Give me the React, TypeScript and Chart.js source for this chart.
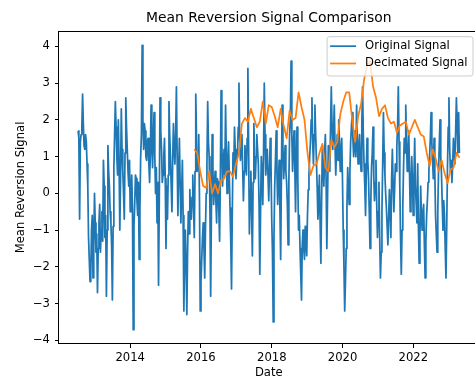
import React, { useEffect, useRef } from 'react';
import { Chart, registerables } from 'chart.js';

Chart.register(...registerables);

const TITLE = 'Mean Reversion Signal Comparison';
const X_LABEL = 'Date';
const Y_LABEL = 'Mean Reversion Signal';
const SERIES_NAMES = ['Original Signal', 'Decimated Signal'];
const SERIES_COLORS = ['#1f77b4', '#ff7f0e'];

// Original signal: decimal-year start and sampling interval (~weekly)
const ORIGINAL_START = 2012.53;
const ORIGINAL_STEP = 0.021035;
const originalValues = [
  1.7, 1.5, -0.7, 1.4, 1.6, 1.8, 2.7, 1.9, 1.3, 1.2, 1.6, 1.4, 0.8, 0.2, -1.2, -1.8, -2.4, -2.2, -1.0, -0.6,
  -2.3, -1.4, 0.0, -0.8, -1.6, -1.1, -2.7, -1.5, -0.8, -0.3, -1.6, -1.0, -0.5, -1.3, 0.9, 0.2, -1.2, -0.6, -2.8, -1.0,
  1.3, 0.6, 0.2, -0.5, -0.8, -1.4, -2.9, -0.9, 0.7, 1.6, 2.5, 1.8, 1.0, 0.5, 2.0, 0.9, -1.0, 0.4, 2.3, 1.2,
  0.6, 0.0, -0.7, 1.1, 2.6, 1.8, 1.2, 0.6, 0.2, 0.9, -0.5, -0.1, 0.5, -0.4, -3.71, -0.9, -0.3, 0.5, 0.4, -0.2,
  -0.6, 0.3, -1.8, -0.4, 1.0, 1.6, 4.03, 2.0, 1.2, 1.9, 1.7, 1.0, 0.9, 1.4, 1.5, 0.8, 0.3, 1.1, 2.4, 1.3,
  0.7, 1.5, 2.2, 1.0, 0.0, 0.7, -0.8, 0.3, -2.5, -0.2, 2.6, 1.7, 1.2, 0.3, 0.5, 1.0, 1.5, 0.4, -1.5, 0.2,
  -0.7, 0.5, 2.5, 1.6, 1.0, 0.2, -0.5, 0.9, 1.9, 1.2, 0.8, 1.6, 2.9, 1.0, -0.6, 0.6, 1.5, 0.3, -0.8, 0.0,
  0.9, -0.6, -3.2, -1.8, -1.0, -2.0, -3.3, -1.6, -0.5, -1.1, 0.1, -0.5, -0.7, -0.1, 0.5, -0.4, -1.2, 0.6, 2.7, 1.5,
  0.6, 1.1, 1.6, -0.2, -3.2, -2.4, -1.8, -1.2, -0.8, -1.5, -2.3, -1.0, 0.0, 0.8, 2.5, 1.4, 1.0, -0.4, -2.8, -0.5,
  1.6, 0.7, -0.3, 0.2, 0.6, -0.2, -0.8, 0.4, 0.3, -0.5, -1.3, 0.4, 2.8, 1.4, 0.2, 0.8, 1.2, 0.5, 2.4, 1.1,
  0.0, 0.8, 1.4, 0.5, -0.4, -1.3, -2.6, -0.6, 1.1, 0.6, 1.8, 1.2, 0.4, 0.9, 1.0, 1.8, 3.0, 1.5, 0.9, 1.2,
  1.6, 0.7, -0.2, 0.6, 1.3, 0.9, 0.5, 1.5, 3.4, 1.2, -1.1, 0.1, 0.6, -0.6, -1.7, 0.3, 1.9, 1.2, 0.4, 1.0,
  1.6, 1.2, 0.8, -0.3, -2.2, -0.5, 1.0, 0.5, -0.3, 1.1, 3.0, 1.6, 0.5, 0.9, 1.2, 0.5, -0.2, 0.6, 1.5, 0.8,
  -0.7, -1.6, -3.5, -1.2, 0.2, 0.9, 1.7, 0.6, -0.3, 0.4, 0.9, -0.4, -1.8, 0.5, 2.4, 1.3, 0.4, 0.8, 1.3, 0.6,
  0.3, -0.3, -1.4, 0.3, 1.6, 2.0, 3.6, 1.6, 0.6, 1.3, 1.7, 0.7, -0.5, 0.9, 1.8, 0.4, -1.0, -0.6, -1.5, -2.2,
  -2.9, -1.4, -1.0, -1.5, -1.8, -0.9, -1.3, -1.7, -0.6, 0.1, 0.5, 1.0, 1.4, 2.0, 2.6, 1.4, 0.8, 1.6, 2.4, 1.6,
  0.9, 0.2, -0.7, -0.3, 0.5, -0.8, -1.9, -0.2, 1.3, 0.8, 0.2, 1.1, 1.6, 0.4, -1.5, -0.1, 1.3, 1.0, 0.6, 1.8,
  2.9, 1.8, 1.2, 1.7, 2.4, 1.3, 0.5, 1.2, 1.6, 0.9, 2.0, 1.4, 0.6, 1.1, 1.5, 0.4, -1.0, -2.0, -3.2, -2.4,
  -1.5, -0.4, 0.7, 0.2, -0.3, 0.6, 1.4, 1.8, 2.2, 1.5, 1.0, 1.3, 1.7, 1.0, 2.4, 1.5, 0.8, 1.2, 1.6, 1.0,
  0.6, 1.9, 2.9, 1.6, 0.8, 0.2, -0.6, 0.6, 1.5, 0.9, 0.4, -0.5, -1.5, -0.3, 0.7, 1.1, 1.8, 0.5, -0.2, 0.3,
  0.9, -0.3, -1.2, -0.5, 0.3, -1.2, -2.3, -1.6, -0.5, 0.8, 2.2, 1.1, 0.5, 0.0, -0.4, -0.9, -1.4, -0.7, 0.1, -0.4,
  -1.2, 0.4, 1.2, 0.3, -0.5, 0.1, 0.8, 0.6, 1.3, 1.8, 2.9, 1.4, 0.2, -1.2, -2.2, -1.0, -0.4, 0.7, 1.5, 1.1,
  2.4, 1.4, 0.6, 1.0, 1.7, 0.6, -0.5, 0.2, 1.0, 0.3, -0.6, 0.4, 1.5, 0.2, -0.3, -0.8, 0.8, -0.9, -1.9, -1.2,
  0.2, -0.6, -1.0, -0.5, -0.3, -1.4, -2.3, -1.3, -0.6, -0.2, 0.3, 0.6, 1.0, 1.5, 2.2, 1.4, 0.9, 0.4, 1.5, 0.6,
  -0.6, -1.1, -1.6, -0.5, 0.6, 1.3, 2.0, 1.0, 0.5, -0.3, -1.0, -0.2, -0.6, -1.5, -2.3, -0.9, 0.7, 1.8, 2.6, 1.2,
  0.6, 0.9, 0.3, 0.8, 1.5, 1.1, 0.8, 1.7, 2.6, 1.9, 1.1, 2.2, 1.1,
];

// Decimated signal: decimal-year start and interval (~monthly)
const DECIMATED_START = 2015.81;
const DECIMATED_STEP = 0.0842;
const decimatedValues = [
  1.2, 1.1, 0.6, 0.2, 0.15, 0.6, 0.0, 0.25, 0.0, 0.35,
  0.4, 0.6, 0.6, 0.45, 0.8, 1.1, 1.9, 2.05, 1.95, 2.3,
  2.05, 1.8, 1.95, 2.5, 1.9, 2.4, 2.35, 2.1, 1.8, 2.3,
  1.85, 1.5, 2.25, 2.0, 2.05, 2.75, 2.35, 2.0, 1.1, 0.5,
  0.75, 0.8, 1.1, 1.35, 0.7, 0.6, 1.45, 1.25, 1.4, 2.15,
  2.5, 2.75, 2.75, 2.0, 1.4, 2.1, 2.45, 3.1, 3.5, 3.6,
  2.9, 2.6, 2.1, 2.3, 2.4, 2.05, 1.9, 1.95, 1.65, 1.85,
  1.9, 1.95, 1.6, 1.8, 2.0, 1.8, 1.6, 1.55, 1.1, 0.75,
  1.2, 0.95, 0.6, 0.9, 0.55, 0.28, 0.65, 0.7, 1.1, 0.97,
];

const xTickYears = [2014, 2016, 2018, 2020, 2022];
const yTickValues = [-4, -3, -2, -1, 0, 1, 2, 3, 4];
const X_MIN = 2011.99;
const X_MAX = 2023.84;
const Y_MIN = -4.1;
const Y_MAX = 4.42;

const FAMILY = "'DejaVu Sans', sans-serif";
const FS = 11.6;

const fmtMinus = (v: number) => (v < 0 ? '\u2212' + Math.abs(v) : String(v));

const framePlugin = {
  id: 'mplFrame',
  afterDatasetsDraw(chart: any) {
    const { ctx, chartArea: a } = chart;
    ctx.save();
    ctx.strokeStyle = '#000';
    ctx.lineWidth = 1;
    const l = Math.round(a.left) - 0.5;
    const t = Math.round(a.top) + 0.5;
    const r = Math.round(a.right) - 0.5;
    const b = Math.round(a.bottom) - 0.5;
    ctx.strokeRect(l, t, r - l, b - t);
    ctx.restore();
  },
};

const legendPlugin = {
  id: 'mplLegend',
  afterDraw(chart: any) {
    const { ctx, chartArea: a } = chart;
    const ds = chart.data.datasets;
    ctx.save();
    ctx.font = `${FS}px ${FAMILY}`;
    const textW = Math.max(...ds.map((d: any) => ctx.measureText(d.label).width));
    const padL = 3, lineLen = 26, gap = 9, padR = 5.5, rowH = 17.3, padT = 9.5, padB = 12.5;
    const w = padL + lineLen + gap + textW + padR;
    const h = padT + rowH * (ds.length - 1) + padB;
    const x0 = a.right - 5.5 - w;
    const y0 = a.top + 5.7;
    const rad = 2.5;
    ctx.beginPath();
    ctx.moveTo(x0 + rad, y0);
    ctx.lineTo(x0 + w - rad, y0);
    ctx.quadraticCurveTo(x0 + w, y0, x0 + w, y0 + rad);
    ctx.lineTo(x0 + w, y0 + h - rad);
    ctx.quadraticCurveTo(x0 + w, y0 + h, x0 + w - rad, y0 + h);
    ctx.lineTo(x0 + rad, y0 + h);
    ctx.quadraticCurveTo(x0, y0 + h, x0, y0 + h - rad);
    ctx.lineTo(x0, y0 + rad);
    ctx.quadraticCurveTo(x0, y0, x0 + rad, y0);
    ctx.closePath();
    ctx.fillStyle = 'rgba(255,255,255,0.8)';
    ctx.fill();
    ctx.strokeStyle = '#cccccc';
    ctx.lineWidth = 1;
    ctx.stroke();
    ds.forEach((d: any, i: number) => {
      const y = y0 + padT + i * rowH;
      ctx.beginPath();
      ctx.strokeStyle = d.borderColor;
      ctx.lineWidth = 1.74;
      ctx.moveTo(x0 + padL, y);
      ctx.lineTo(x0 + padL + lineLen, y);
      ctx.stroke();
      ctx.fillStyle = '#000';
      ctx.textAlign = 'left';
      ctx.textBaseline = 'middle';
      ctx.fillText(d.label, x0 + padL + lineLen + gap, y);
    });
    ctx.restore();
  },
};

export default function App() {
  const ref = useRef<HTMLCanvasElement>(null);
  useEffect(() => {
    document.body.style.margin = '0';
    const originalPoints = originalValues.map((v, i) => ({ x: ORIGINAL_START + i * ORIGINAL_STEP, y: v }));
    const decimatedPoints = decimatedValues.map((v, i) => ({ x: DECIMATED_START + i * DECIMATED_STEP, y: v }));
    const tickFont = { size: FS, family: FAMILY };
    const grid = {
      display: true,
      drawOnChartArea: false,
      drawTicks: true,
      tickLength: 4,
      tickColor: '#000',
      tickWidth: 1,
    };
    const chart = new Chart(ref.current as HTMLCanvasElement, {
      type: 'line',
      data: {
        datasets: [
          {
            label: SERIES_NAMES[0],
            data: originalPoints,
            borderColor: SERIES_COLORS[0],
            backgroundColor: SERIES_COLORS[0],
            borderWidth: 1.74,
            pointRadius: 0,
            tension: 0,
            fill: false,
            borderJoinStyle: 'round',
            order: 1,
          },
          {
            label: SERIES_NAMES[1],
            data: decimatedPoints,
            borderColor: SERIES_COLORS[1],
            backgroundColor: SERIES_COLORS[1],
            borderWidth: 1.74,
            pointRadius: 0,
            tension: 0,
            fill: false,
            borderJoinStyle: 'round',
            order: 0,
          },
        ],
      },
      options: {
        responsive: false,
        animation: false,
        events: [],
        layout: { padding: { top: 0, left: 0, right: 1.5, bottom: 0 } },
        plugins: {
          legend: { display: false },
          tooltip: { enabled: false },
          title: {
            display: true,
            text: TITLE,
            color: '#000',
            font: { size: 13.9, family: FAMILY, weight: 'normal' },
            padding: { top: 10, bottom: 4.3 },
            fullSize: false,
          },
        },
        scales: {
          x: {
            type: 'linear',
            min: X_MIN,
            max: X_MAX,
            afterBuildTicks: (s: any) => {
              s.ticks = xTickYears.map((v) => ({ value: v }));
            },
            afterFit: (s: any) => {
              s.height = 38;
            },
            ticks: {
              color: '#000',
              font: tickFont,
              padding: 3,
              maxRotation: 0,
              autoSkip: false,
              callback: (v: any) => String(v),
            },
            grid,
            border: { display: false },
            title: {
              display: true,
              text: X_LABEL,
              color: '#000',
              font: tickFont,
              padding: { top: 0, bottom: 2 },
            },
          },
          y: {
            type: 'linear',
            min: Y_MIN,
            max: Y_MAX,
            afterBuildTicks: (s: any) => {
              s.ticks = yTickValues.map((v) => ({ value: v }));
            },
            afterFit: (s: any) => {
              s.width = 59;
            },
            ticks: {
              color: '#000',
              font: tickFont,
              padding: 5,
              autoSkip: false,
              callback: (v: any) => fmtMinus(Number(v)),
            },
            grid,
            border: { display: false },
            title: {
              display: true,
              text: Y_LABEL,
              color: '#000',
              font: tickFont,
              padding: { top: 14, bottom: 0 },
            },
          },
        },
      } as any,
      plugins: [framePlugin, legendPlugin],
    } as any);
    return () => chart.destroy();
  }, []);
  return (
    <div
      style={{
        position: 'fixed',
        left: 0,
        top: 0,
        width: 475,
        height: 382,
        overflow: 'hidden',
        background: '#fff',
      }}
    >
      <canvas ref={ref} width={480} height={382} style={{ display: 'block' }} />
    </div>
  );
}
